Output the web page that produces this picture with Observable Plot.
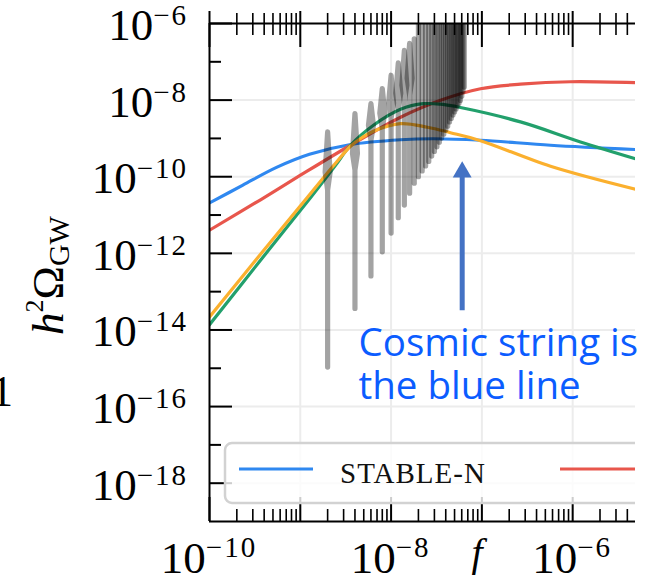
<!DOCTYPE html>
<html>
<head>
<meta charset="utf-8">
<script src="https://cdn.jsdelivr.net/npm/d3@7"></script>
<script src="https://cdn.jsdelivr.net/npm/@observablehq/plot@0.6"></script>
<style>
  html, body { margin: 0; padding: 0; background: #fff; }
  #chart { width: 652px; height: 582px; overflow: hidden; }
</style>
</head>
<body>
<div id="chart"></div>
<script>
// ---------- data (log10 values) ----------
const blueLogF   = [-10, -9.637, -9.262, -8.899, -8.458, -7.896, -7.533, -7.015, -6.244, -5.308];
const blueLogW   = [-10.684, -10.225, -9.755, -9.412, -9.164, -9.034, -9.008, -9.047, -9.178, -9.290];
const redLogF    = [-10, -9.438, -8.998, -8.447, -7.896, -7.456, -7.015, -6.575, -6.024, -5.308];
const redLogW    = [-11.397, -10.601, -9.961, -9.178, -8.446, -8.003, -7.702, -7.585, -7.520, -7.546];
const greenLogF  = [-10, -9.438, -8.888, -8.612, -8.447, -8.194, -7.896, -7.643, -7.456, -7.236, -6.575, -5.914, -5.308];
const greenLogW  = [-13.864, -12.180, -10.548, -9.700, -9.178, -8.655, -8.238, -8.094, -8.107, -8.193, -8.569, -9.091, -9.530];
const orangeLogF = [-10, -9.438, -8.921, -8.612, -8.447, -8.315, -8.194, -7.896, -7.599, -7.346, -7.015, -6.244, -5.308];
const orangeLogW = [-13.661, -12.023, -10.535, -9.648, -9.204, -8.969, -8.812, -8.616, -8.708, -8.851, -9.060, -9.726, -10.326];

const seriesNames  = ["STABLE-N", "red", "green", "orange"];
const seriesColors = ["#2f88f0", "#e8564c", "#22a06c", "#fbb02e"];

// oscillating (grey) spectrum: one spike per oscillation
const spikeF = [2.0e-9, 4.0e-9, 6.0e-9, 8.0e-9, 1.0e-8, 1.2e-8, 1.4e-8, 1.6e-8, 1.8e-8, 2.0e-8, 2.2e-8,
                2.4e-8, 2.6e-8, 2.8e-8, 3.0e-8, 3.2e-8, 3.4e-8, 3.6e-8, 3.8e-8, 4.0e-8, 4.2e-8, 4.4e-8,
                4.6e-8, 4.8e-8, 5.0e-8, 5.2e-8, 5.4e-8, 5.6e-8, 5.8e-8, 6.0e-8, 6.2e-8, 6.4e-8];
const spikeTopLog = [-8.83, -8.35, -8.09, -7.70, -7.35, -7.03, -6.70, -6.52, -6.40,
                     -5.5, -5.5, -5.5, -5.5, -5.5, -5.5, -5.5, -5.5, -5.5, -5.5, -5.5, -5.5, -5.5,
                     -5.5, -5.5, -5.5, -5.5, -5.5, -5.5, -5.5, -5.5, -5.5, -5.5];
const spikeBottomLog = [-14.97, -13.44, -12.59, -11.96, -11.47, -11.07, -10.74, -10.43, -10.17, -10.00, -9.85,
                        -9.72, -9.60, -9.46, -9.34, -9.22, -9.10, -8.99, -8.89, -8.78, -8.68, -8.57,
                        -8.48, -8.39, -8.31, -8.23, -8.15, -8.08, -8.01, -7.90, -7.77, -7.66];
const spikeBulgeLog   = [-9.88, -9.39, -8.66, -8.34, -8.08, -7.82, -7.61, -7.43];
const spikeLensEndLog = [-10.35, -9.83, -9.05, -8.73, -8.47, -8.26, -8.05, -7.87];

// axes
const xLabelExps = [-10, -8, -6];
const yLabelExps = [-18, -16, -14, -12, -10, -8, -6];
const yShortExps = [-17, -15, -13, -11, -9, -7];
const xMajor = [1e-10, 1e-9, 1e-8, 1e-7, 1e-6];
const xMinorMult = [2, 3, 4, 5, 6, 7, 8, 9];
const xMax = Math.pow(10, -5.308);

// annotation
const arrowF = 6.07e-8, arrowFromLog = -13.5, arrowToLog = -10.0, arrowHeadLog = -9.88;
const noteText = "Cosmic string is\nthe blue line";
const noteF = Math.pow(10, -8.359), noteW = Math.pow(10, -15.797);

// ---------- tables ----------
const mk = (lf, lw, name) => lf.map((v, i) => ({f: 10 ** v, w: 10 ** lw[i], name}));
const curves = [
  mk(blueLogF, blueLogW, seriesNames[0]),
  mk(redLogF, redLogW, seriesNames[1]),
  mk(greenLogF, greenLogW, seriesNames[2]),
  mk(orangeLogF, orangeLogW, seriesNames[3])
];
const lensK = Math.pow(10, 0.0275);
const spikeRows = [];
spikeF.forEach((f, i) => {
  const top = 10 ** spikeTopLog[i], bot = 10 ** spikeBottomLog[i];
  if (i < spikeBulgeLog.length) {
    const b = 10 ** spikeBulgeLog[i], e = 10 ** spikeLensEndLog[i];
    [[f, bot], [f, e], [f / lensK, b], [f, top], [f * lensK, b], [f, e], [f, bot]]
      .forEach(([x, y]) => spikeRows.push({id: i, f: x, w: y}));
  } else {
    [[f, bot], [f, top]].forEach(([x, y]) => spikeRows.push({id: i, f: x, w: y}));
  }
});
const xMinor = [];
[-10, -9, -8, -7, -6].forEach(e => xMinorMult.forEach(m => { const v = m * 10 ** e; if (v < xMax) xMinor.push(v); }));

const serif = "'Liberation Serif', 'Times New Roman', serif";
const H = 498; // frame height
const W = 426; // frame width

// tick labels with superscripts
function tickLabels(index, scales, values, dims) {
  const g = d3.create("svg:g").attr("font-family", serif).attr("fill", "black");
  for (const e of yLabelExps) {
    const y = scales.y(10 ** e);
    const t = g.append("text").attr("x", dims.marginLeft - 21).attr("y", y + 17).attr("text-anchor", "end");
    t.append("tspan").attr("font-size", 45).text("10");
    t.append("tspan").attr("font-size", 29).attr("dy", -15).attr("letter-spacing", 2).text("\u2212" + (-e));
  }
  for (const e of xLabelExps) {
    const x = scales.x(10 ** e);
    const t = g.append("text").attr("x", x).attr("y", dims.height - 9).attr("text-anchor", "middle");
    t.append("tspan").attr("font-size", 45).text("10");
    t.append("tspan").attr("font-size", 29).attr("dy", -16).attr("letter-spacing", 2).text("\u2212" + (-e));
  }
  // axis labels
  g.append("text").attr("x", 477).attr("y", 566).attr("text-anchor", "middle")
    .attr("font-size", 40).attr("font-style", "italic").text("f");
  const yl = g.append("text").attr("transform", "translate(63,335) rotate(-90)").attr("text-anchor", "start");
  yl.append("tspan").attr("font-size", 45).attr("font-style", "italic").text("h");
  yl.append("tspan").attr("font-size", 26).attr("dy", -20).text("2");
  yl.append("tspan").attr("font-size", 45).attr("dy", 20).text("\u03A9");
  yl.append("tspan").attr("font-size", 30).attr("dy", 6).text("GW");
  // fragment of a neighbouring panel's label at the far left edge
  g.append("text").attr("x", -9).attr("y", 406).attr("text-anchor", "start").attr("font-size", 44).text("1");
  return g.node();
}

function legend(index, scales, values, dims) {
  const g = d3.create("svg:g");
  const L = dims.marginLeft + 16, R = dims.width - dims.marginRight, T = 443, B = 503, r = 7;
  g.append("rect").attr("x", L).attr("y", T).attr("width", R - L).attr("height", B - T)
    .attr("fill", "white").attr("fill-opacity", 0.8);
  g.append("path")
    .attr("d", `M${R},${T}H${L + r}A${r},${r} 0 0 0 ${L},${T + r}V${B - r}A${r},${r} 0 0 0 ${L + r},${B}H${R}`)
    .attr("fill", "none").attr("stroke", "#d2d2d2").attr("stroke-width", 2.5);
  const ly = 469;
  g.append("line").attr("x1", L + 14).attr("x2", L + 88).attr("y1", ly).attr("y2", ly)
    .attr("stroke", seriesColors[0]).attr("stroke-width", 3);
  g.append("text").attr("x", L + 115).attr("y", 483).attr("text-anchor", "start")
    .attr("font-family", serif).attr("font-size", 29)
    .attr("letter-spacing", 1).attr("fill", "#111").text(seriesNames[0]);
  g.append("line").attr("x1", L + 335).attr("x2", R).attr("y1", ly).attr("y2", ly)
    .attr("stroke", seriesColors[1]).attr("stroke-width", 3);
  return g.node();
}

const gridC = "#ececec";
const chart = Plot.plot({
  width: 652,
  height: 582,
  marginLeft: 209,
  marginRight: 17,
  marginTop: 23,
  marginBottom: 61,
  style: {background: "white", overflow: "visible"},
  x: {type: "log", domain: [1e-10, xMax], axis: null},
  y: {type: "log", domain: [1e-19, 1e-6], axis: null},
  marks: [
    Plot.ruleX([1e-9, 1e-8, 1e-7, 1e-6], {stroke: gridC, strokeWidth: 2}),
    Plot.ruleY([1e-18, 1e-16, 1e-14, 1e-12, 1e-10, 1e-8], {stroke: gridC, strokeWidth: 2}),
    ...curves.map((c, i) => Plot.line(c, {x: "f", y: "w", stroke: seriesColors[i], strokeWidth: 3.2, curve: "catmull-rom", clip: true})),
    Plot.line(spikeRows, {x: "f", y: "w", z: "id", stroke: "#000", strokeOpacity: 0.36, strokeWidth: 5.2, clip: true}),
    Plot.ruleX([arrowF], {y1: 10 ** arrowFromLog, y2: 10 ** arrowToLog, stroke: "#4472c4", strokeWidth: 5, strokeLinecap: "butt"}),
    Plot.dot([arrowF], {x: d => d, y: 10 ** arrowHeadLog, symbol: "triangle", r: 7, fill: "#4472c4", stroke: "none"}),
    Plot.text([noteText], {x: noteF, y: noteW, text: d => d, textAnchor: "start", lineAnchor: "bottom",
      fontSize: 38.5, lineHeight: 43 / 38.5, fontFamily: "'Open Sans', sans-serif", fill: "#0b5cff"}),
    // spines
    Plot.ruleX([1e-10], {stroke: "black", strokeWidth: 2}),
    Plot.ruleY([1e-19, 1e-6], {stroke: "black", strokeWidth: 2}),
    // y ticks (inward)
    Plot.tickY(yLabelExps.map(e => 10 ** e), {y: d => d, insetRight: W - 23, stroke: "black", strokeWidth: 2}),
    Plot.tickY(yShortExps.map(e => 10 ** e), {y: d => d, insetRight: W - 12, stroke: "black", strokeWidth: 2}),
    // x ticks top and bottom
    Plot.tickX(xMajor, {x: d => d, insetTop: -12, insetBottom: H - 24, stroke: "black", strokeWidth: 2}),
    Plot.tickX(xMinor, {x: d => d, insetTop: -10, insetBottom: H - 12, stroke: "black", strokeWidth: 1.6}),
    Plot.tickX(xMajor, {x: d => d, insetTop: H - 24, insetBottom: 0, stroke: "black", strokeWidth: 2}),
    Plot.tickX(xMinor, {x: d => d, insetTop: H - 12, insetBottom: 0, stroke: "black", strokeWidth: 1.6}),
    tickLabels,
    legend
  ]
});
document.getElementById("chart").appendChild(chart);
</script>
</body>
</html>
